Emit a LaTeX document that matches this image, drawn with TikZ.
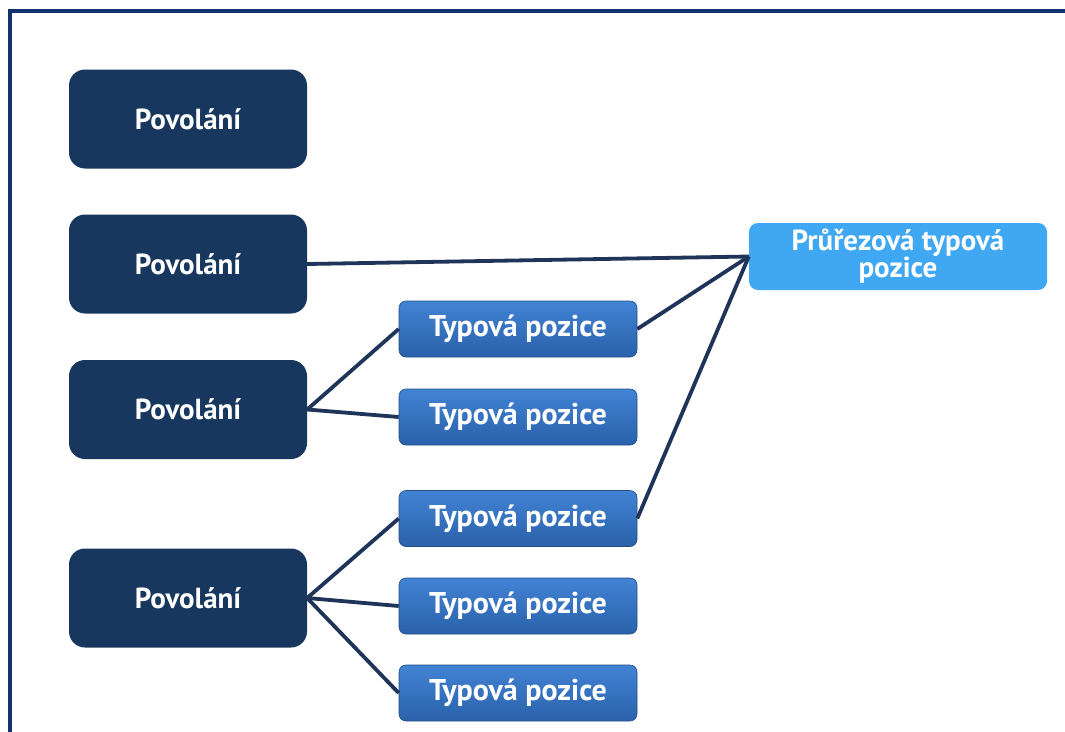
\documentclass[tikz,border=0pt]{standalone}
\usepackage{fontspec}
\setmainfont{PT Sans}
\usepackage{tikz}
\usetikzlibrary{positioning}

\definecolor{navy}{HTML}{17375E}
\definecolor{lineblue}{HTML}{1F3458}
\definecolor{typtop}{HTML}{4283D4}
\definecolor{typbot}{HTML}{2A61AA}
\definecolor{skyblue}{HTML}{40A8F2}

\begin{document}
\begin{tikzpicture}[x=1pt, y=-1pt,
    povolani/.style={rectangle, rounded corners=16pt, fill=navy, text=white,
        font=\fontsize{29}{31}\selectfont\bfseries,
        minimum width=238pt, minimum height=99pt, inner sep=0pt},
    typova/.style={rectangle, rounded corners=7pt, top color=typtop, bottom color=typbot,
        draw=typbot!80!black, line width=0.6pt, text=white,
        font=\fontsize{30}{32}\selectfont\bfseries,
        minimum width=238pt, minimum height=56pt, inner sep=0pt},
    prurez/.style={rectangle, rounded corners=9pt, fill=skyblue, text=white,
        font=\fontsize{29}{27}\selectfont\bfseries, align=center,
        minimum width=298pt, minimum height=67pt, inner sep=0pt},
    spoj/.style={draw=lineblue, line width=3.8pt}]
    \useasboundingbox (0,0) rectangle (1065,731);

    % frame
    \draw[navy!90!blue, line width=4.5pt] (10,735) -- (10,11) -- (1070,11);

    % occupations
    \node[povolani] (p1) at (188,119) {Povolání};
    \node[povolani] (p2) at (188,264) {Povolání};
    \node[povolani] (p3) at (188,409.5) {Povolání};
    \node[povolani] (p4) at (188,598) {Povolání};

    % typical positions
    \node[typova] (t1) at (518,329) {Typová pozice};
    \node[typova] (t2) at (518,417) {Typová pozice};
    \node[typova] (t3) at (518,518.5) {Typová pozice};
    \node[typova] (t4) at (518,606) {Typová pozice};
    \node[typova] (t5) at (518,693) {Typová pozice};

    \node[prurez] (pr) at (898,256.5) {Průřezová typová\\pozice};

    % connections
    \draw[spoj] (p3.east) -- (t1.west);
    \draw[spoj] (p3.east) -- (t2.west);
    \draw[spoj] (p4.east) -- (t3.west);
    \draw[spoj] (p4.east) -- (t4.west);
    \draw[spoj] (p4.east) -- (t5.west);
    \draw[spoj] (p2.east) -- (pr.west);
    \draw[spoj] (t1.east) -- (pr.west);
    \draw[spoj] (t3.east) -- (pr.west);
\end{tikzpicture}
\end{document}
